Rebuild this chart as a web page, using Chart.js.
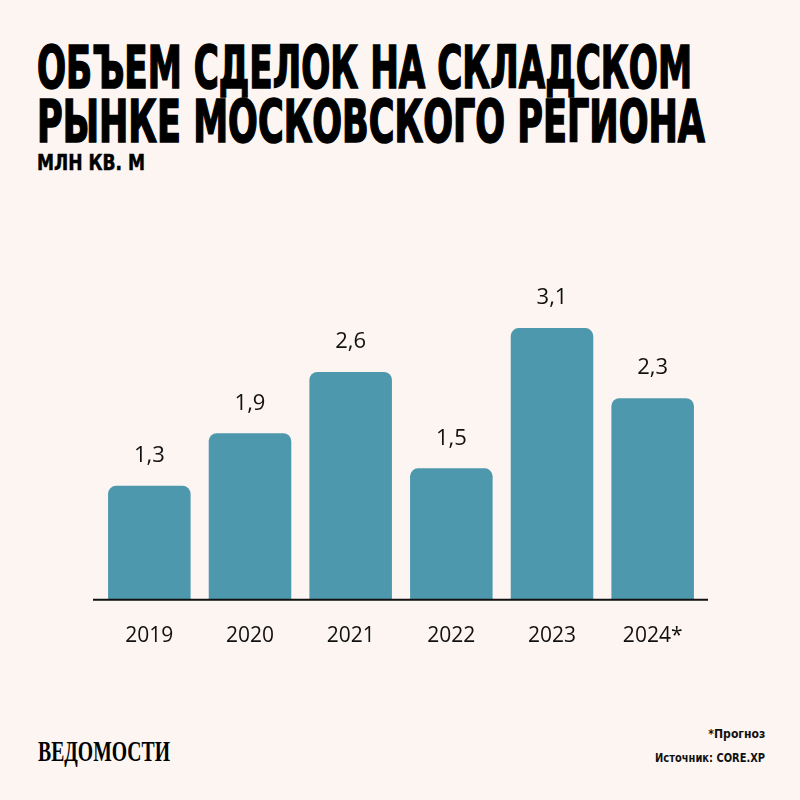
<!DOCTYPE html>
<html lang="ru">
<head>
<meta charset="utf-8">
<script src="https://cdn.jsdelivr.net/npm/chart.js@4/dist/chart.umd.min.js"></script>
<style>
  html, body { margin: 0; padding: 0; background: #fcf5f2; }
  .page { position: relative; width: 800px; height: 800px; overflow: hidden; background: #fcf5f2; }
  .fit { position: absolute; left: 37px; white-space: nowrap; transform-origin: 0 0; color: #000;
         font-family: "Liberation Sans Narrow", "DejaVu Sans Condensed", "DejaVu Sans", sans-serif; font-weight: bold; }
  #t1 { top: 39px; font-size: 58px; line-height: 58px; -webkit-text-stroke: 1.6px #000; }
  #t2 { top: 93px; font-size: 58px; line-height: 58px; -webkit-text-stroke: 1.6px #000; }
  #sub { top: 150px; font-size: 22px; line-height: 26px; -webkit-text-stroke: 0.5px #000; }
  #logo { left: 38px; top: 736px; font-family: "Liberation Serif", "DejaVu Serif", serif; font-size: 30px; line-height: 30px; }
  .note { left: auto; right: 35px; transform-origin: 100% 0; font-size: 13px; color: #111; }
  #n1 { top: 726px; }
  #n2 { top: 750px; }
  canvas { position: absolute; left: 0; top: 0; }
</style>
</head>
<body>
<div class="page">
  <div class="fit" id="t1" data-w="655">ОБЪЕМ СДЕЛОК НА СКЛАДСКОМ</div>
  <div class="fit" id="t2" data-w="668">РЫНКЕ МОСКОВСКОГО РЕГИОНА</div>
  <div class="fit" id="sub" data-w="108">МЛН КВ. М</div>
  <div class="fit" id="logo" data-w="132">ВЕДОМОСТИ</div>
  <div class="fit note" id="n1" data-w="57">*Прогноз</div>
  <div class="fit note" id="n2" data-w="110">Источник: CORE.XP</div>
  <canvas id="dealsChart" width="800" height="800"></canvas>
</div>
<script>
// Data
const years = ['2019', '2020', '2021', '2022', '2023', '2024*'];
const volumes = [1.3, 1.9, 2.6, 1.5, 3.1, 2.3];

const barColor = '#4e98ae';
const textColor = '#111111';

// squeeze the heavy headings to their width in the picture
document.querySelectorAll('.fit').forEach((el) => {
    const target = Number(el.dataset.w);
    const w = el.getBoundingClientRect().width;
    el.style.transform = `scaleX(${target / w})`;
});

const fmt = (v) => v.toFixed(1).replace('.', ',');

// value labels above bars + base line
const barExtras = {
    id: 'barExtras',
    afterDatasetsDraw(chart) {
        const { ctx, chartArea } = chart;
        const meta = chart.getDatasetMeta(0);
        ctx.save();
        ctx.fillStyle = textColor;
        ctx.font = '22px "Open Sans", "Noto Sans", sans-serif';
        ctx.textAlign = 'center';
        ctx.textBaseline = 'middle';
        meta.data.forEach((bar, i) => {
            ctx.fillText(fmt(volumes[i]), bar.x, bar.y - 30);
        });
        ctx.strokeStyle = '#111111';
        ctx.lineWidth = 2;
        ctx.beginPath();
        ctx.moveTo(chartArea.left - 6, chartArea.bottom);
        ctx.lineTo(chartArea.right + 5, chartArea.bottom);
        ctx.stroke();
        ctx.restore();
    }
};

const initDealsChart = () => {
    const ctx = document.getElementById('dealsChart').getContext('2d');
    new Chart(ctx, {
        type: 'bar',
        data: {
            labels: years,
            datasets: [{
                data: volumes,
                backgroundColor: barColor,
                borderRadius: { topLeft: 8, topRight: 8 },
                borderSkipped: 'bottom',
                categoryPercentage: 1,
                barPercentage: 0.82
            }]
        },
        options: {
            responsive: false,
            animation: false,
            layout: { padding: { left: 99, right: 97, top: 293, bottom: 135 } },
            plugins: { legend: { display: false }, tooltip: { enabled: false } },
            scales: {
                y: { display: false, min: 0, max: 3.5 },
                x: {
                    grid: { display: false },
                    border: { display: false },
                    ticks: {
                        color: textColor,
                        padding: 16,
                        font: { family: '"Open Sans", "Noto Sans", sans-serif', size: 21 }
                    }
                }
            }
        },
        plugins: [barExtras]
    });
};

document.addEventListener('DOMContentLoaded', initDealsChart);
</script>
</body>
</html>
